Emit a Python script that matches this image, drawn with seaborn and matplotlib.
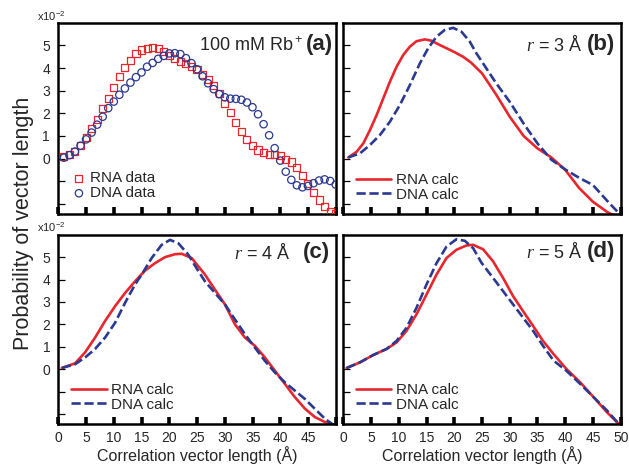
import numpy as np
import pandas as pd
import seaborn as sns
import matplotlib
matplotlib.use("Agg")
import matplotlib.pyplot as plt

# ---------------- data (units of 1e-2) ----------------
# panel (a): measured data, x = 1..50 Å
a_x = list(range(1, 51))
a_rna = [0.09, 0.19, 0.31, 0.59, 0.93, 1.34, 1.74, 2.21, 2.65, 3.16,
         3.63, 4.01, 4.35, 4.63, 4.80, 4.88, 4.90, 4.86, 4.74, 4.56,
         4.44, 4.31, 4.19, 4.07, 3.94, 3.72, 3.48, 3.25, 2.86, 2.45,
         2.04, 1.59, 1.18, 0.83, 0.58, 0.38, 0.27, 0.19, 0.18, 0.13,
         -0.03, -0.15, -0.41, -0.74, -1.09, -1.50, -1.83, -2.12, -2.34, -2.42]
a_dna = [0.04, 0.15, 0.31, 0.57, 0.85, 1.15, 1.50, 1.85, 2.23, 2.52,
         2.82, 3.10, 3.36, 3.60, 3.81, 4.06, 4.23, 4.41, 4.54, 4.65,
         4.66, 4.62, 4.44, 4.22, 3.95, 3.64, 3.33, 3.07, 2.85, 2.71,
         2.65, 2.64, 2.60, 2.48, 2.27, 1.96, 1.52, 1.03, 0.46, -0.09,
         -0.58, -0.94, -1.18, -1.27, -1.21, -1.09, -0.97, -0.92, -0.99, -1.15]

# panel (b): r = 3 Å
b_rna_x = [0.9, 2.4, 3.6, 4.8, 6.0, 7.2, 8.4, 9.6, 10.8, 12.0, 13.2, 14.7, 15.9,
           17.4, 18.6, 20.1, 21.6, 23.0, 25.0, 27.5, 30.0, 32.5, 35.0, 37.5,
           40.0, 42.5, 45.0, 47.5, 48.6]
b_rna_y = [0.05, 0.30, 0.67, 1.26, 1.92, 2.66, 3.40, 4.06, 4.58, 4.95, 5.19, 5.27, 5.21,
           5.02, 4.88, 4.70, 4.50, 4.25, 3.77, 2.85, 1.85, 1.00, 0.45, 0.05,
           -0.50, -1.30, -1.91, -2.35, -2.50]
b_dna_x = [0.9, 3.0, 4.8, 6.6, 8.4, 10.2, 12.0, 13.8, 15.3, 16.8, 18.3, 19.8, 21.3,
           22.8, 24.0, 25.0, 27.5, 30.0, 32.5, 35.0, 37.5, 40.0, 42.5, 45.0,
           47.5, 50.0]
b_dna_y = [0.05, 0.23, 0.60, 1.04, 1.63, 2.37, 3.25, 4.21, 4.88, 5.39, 5.69, 5.78, 5.61,
           5.17, 4.65, 4.28, 3.35, 2.51, 1.55, 0.67, -0.05, -0.48, -0.85, -1.17,
           -1.85, -2.50]

# panel (c): r = 4 Å
c_rna_x = [0.6, 3.0, 4.8, 6.6, 8.4, 10.2, 12.0, 13.8, 15.6, 17.4, 19.2, 21.0, 22.2,
           24.0, 26.4, 28.2, 30.0, 31.8, 33.6, 35.4, 37.2, 39.0, 40.8, 42.6,
           44.4, 46.2, 48.0, 49.6]
c_rna_y = [0.05, 0.26, 0.75, 1.41, 2.15, 2.81, 3.40, 3.92, 4.40, 4.73, 5.00, 5.13, 5.15,
           4.96, 4.22, 3.55, 2.89, 2.00, 1.41, 1.04, 0.52, -0.07, -0.66, -1.25,
           -1.76, -2.14, -2.36, -2.50]
c_dna_x = [0.6, 3.0, 4.8, 6.6, 8.4, 10.2, 12.0, 13.8, 15.0, 16.8, 18.6, 20.1, 21.6,
           23.4, 24.9, 26.4, 28.2, 30.0, 31.8, 33.6, 35.4, 37.2, 39.0, 40.8,
           42.6, 44.4, 46.2, 48.0, 49.6]
c_dna_y = [0.05, 0.22, 0.52, 0.90, 1.41, 2.07, 2.96, 3.78, 4.22, 4.96, 5.55, 5.77, 5.62,
           5.11, 4.50, 3.92, 3.40, 2.89, 2.22, 1.56, 0.96, 0.37, -0.15, -0.59,
           -0.96, -1.33, -1.77, -2.21, -2.50]

# panel (d): r = 5 Å
d_rna_x = [0.6, 3.0, 5.4, 7.8, 9.6, 11.4, 13.2, 15.0, 16.8, 18.6, 20.4, 22.2, 23.4,
           25.2, 27.0, 28.8, 30.6, 32.4, 34.2, 36.0, 37.9, 40.2, 42.7, 45.1,
           47.5, 49.6]
d_rna_y = [0.05, 0.30, 0.63, 0.90, 1.19, 1.71, 2.45, 3.33, 4.22, 4.96, 5.33, 5.52, 5.55,
           5.35, 4.81, 4.07, 3.26, 2.59, 1.93, 1.26, 0.67, 0.01, -0.59, -1.25,
           -1.92, -2.43]
d_dna_x = [0.6, 3.0, 5.4, 7.8, 9.6, 11.4, 13.2, 15.0, 16.8, 18.6, 20.4, 21.9, 23.4,
           24.9, 27.0, 28.8, 30.6, 32.4, 34.2, 36.0, 37.9, 40.2, 42.7, 45.1,
           47.5, 49.6]
d_dna_y = [0.05, 0.30, 0.63, 0.90, 1.26, 1.85, 2.74, 3.78, 4.73, 5.47, 5.80, 5.73, 5.40,
           4.75, 4.07, 3.48, 2.89, 2.30, 1.71, 1.04, 0.38, -0.07, -0.66, -1.25,
           -1.84, -2.43]

x_ticks = [0, 5, 10, 15, 20, 25, 30, 35, 40, 45, 50]
y_ticks = [-2, -1, 0, 1, 2, 3, 4, 5]
y_tick_labels = ["", "", "0", "1", "2", "3", "4", "5"]

RED = "#e8262d"
BLUE = "#2b3990"

# ---------------- style ----------------
sns.set_style("ticks")
plt.rcParams["font.family"] = ["Liberation Sans", "DejaVu Sans"]
plt.rcParams["mathtext.fontset"] = "custom"
plt.rcParams["mathtext.rm"] = "Liberation Sans"
plt.rcParams["mathtext.it"] = "Liberation Serif:italic"
plt.rcParams["mathtext.bf"] = "Liberation Sans:bold"
plt.rcParams["axes.linewidth"] = 1.8
plt.rcParams["axes.edgecolor"] = "black"

fig = plt.figure(figsize=(6.29, 4.65), dpi=100)

W = 0.441
H_top = 0.411
H_bot = 0.407
ax_a = fig.add_axes([0.0927, 0.5398, W, H_top])
ax_b = fig.add_axes([0.5458, 0.5398, W, H_top])
ax_c = fig.add_axes([0.0930, 0.0882, W, H_bot])
ax_d = fig.add_axes([0.5458, 0.0882, W, H_bot])

# panel a: scatter data
sns.scatterplot(x=a_x, y=a_rna, ax=ax_a, marker="s", s=26, color=RED,
                edgecolor=RED, linewidth=0.9, label="RNA data", zorder=3)
ax_a.collections[-1].set_facecolor("none")
sns.scatterplot(x=a_x, y=a_dna, ax=ax_a, marker="o", s=28, color=BLUE,
                edgecolor=BLUE, linewidth=0.9, label="DNA data", zorder=3)
ax_a.collections[-1].set_facecolor("none")

calc = [(ax_b, b_rna_x, b_rna_y, b_dna_x, b_dna_y),
        (ax_c, c_rna_x, c_rna_y, c_dna_x, c_dna_y),
        (ax_d, d_rna_x, d_rna_y, d_dna_x, d_dna_y)]
for ax, rx, ry, dx, dy in calc:
    sns.lineplot(x=rx, y=ry, ax=ax, color=RED, linewidth=1.9, label="RNA calc",
                 estimator=None, sort=False)
    sns.lineplot(x=dx, y=dy, ax=ax, color=BLUE, linewidth=1.9, label="DNA calc",
                 estimator=None, sort=False, linestyle=(0, (3.5, 1.4)))

for ax in (ax_a, ax_b, ax_c, ax_d):
    ax.set_xlim(0, 50)
    ax.set_ylim(-2.45, 6.0)
    ax.set_xticks(x_ticks)
    ax.set_yticks(y_ticks)
    ax.set_xlabel("")
    ax.set_ylabel("")
    ax.tick_params(axis="x", direction="in", length=5, width=2.6, bottom=True,
                   top=False, labelsize=10, pad=5, color="black")
    ax.tick_params(axis="y", direction="in", length=5, width=0.9, left=True,
                   right=False, labelsize=10, pad=6, color="black")
    for sp in ax.spines.values():
        sp.set_linewidth(1.8)
        sp.set_visible(True)

for ax in (ax_a, ax_c):
    ax.set_yticklabels(y_tick_labels)
for ax in (ax_b, ax_d):
    ax.tick_params(axis="y", labelleft=False)
for ax in (ax_a, ax_b):
    ax.tick_params(axis="x", labelbottom=False)
ax_c.set_xticklabels([str(t) for t in x_ticks[:-1]] + [""])
ax_d.set_xticklabels([str(t) for t in x_ticks])

for ax in (ax_c, ax_d):
    ax.set_xlabel("Correlation vector length (Å)", fontsize=11.5, labelpad=0.5)

# legends
ax_a.legend(loc="lower left", frameon=False, fontsize=11, handlelength=0.9,
            handletextpad=0.3, labelspacing=0.05, borderaxespad=0.6,
            borderpad=0.3, markerscale=1.0)
for ax in (ax_b, ax_c, ax_d):
    ax.legend(loc="lower left", frameon=False, fontsize=11, handlelength=2.35,
              handletextpad=0.3, labelspacing=0.05, borderaxespad=0.5,
              borderpad=0.3)

# annotations
ax_a.text(0.883, 0.885, "100 mM Rb$^+$", transform=ax_a.transAxes, ha="right",
          va="center", fontsize=13)
ax_a.text(0.992, 0.885, "(a)", transform=ax_a.transAxes, ha="right",
          va="center", fontsize=16, fontweight="bold")
ax_b.text(0.862, 0.885, "$r$ = 3 Å", transform=ax_b.transAxes, ha="right",
          va="center", fontsize=13)
ax_b.text(0.98, 0.885, "(b)", transform=ax_b.transAxes, ha="right",
          va="center", fontsize=16, fontweight="bold")
ax_c.text(0.836, 0.905, "$r$ = 4 Å", transform=ax_c.transAxes, ha="right",
          va="center", fontsize=13)
ax_c.text(0.98, 0.905, "(c)", transform=ax_c.transAxes, ha="right",
          va="center", fontsize=16, fontweight="bold")
ax_d.text(0.862, 0.91, "$r$ = 5 Å", transform=ax_d.transAxes, ha="right",
          va="center", fontsize=13)
ax_d.text(0.98, 0.91, "(d)", transform=ax_d.transAxes, ha="right",
          va="center", fontsize=16, fontweight="bold")

# scale labels
fig.text(0.059, 0.955, "x10$^{-2}$", fontsize=8, ha="left", va="baseline")
fig.text(0.059, 0.501, "x10$^{-2}$", fontsize=8, ha="left", va="baseline")

fig.text(0.038, 0.52, "Probability of vector length", rotation=90,
         ha="center", va="center", fontsize=15.5)

fig.savefig("out.png", dpi=100)
